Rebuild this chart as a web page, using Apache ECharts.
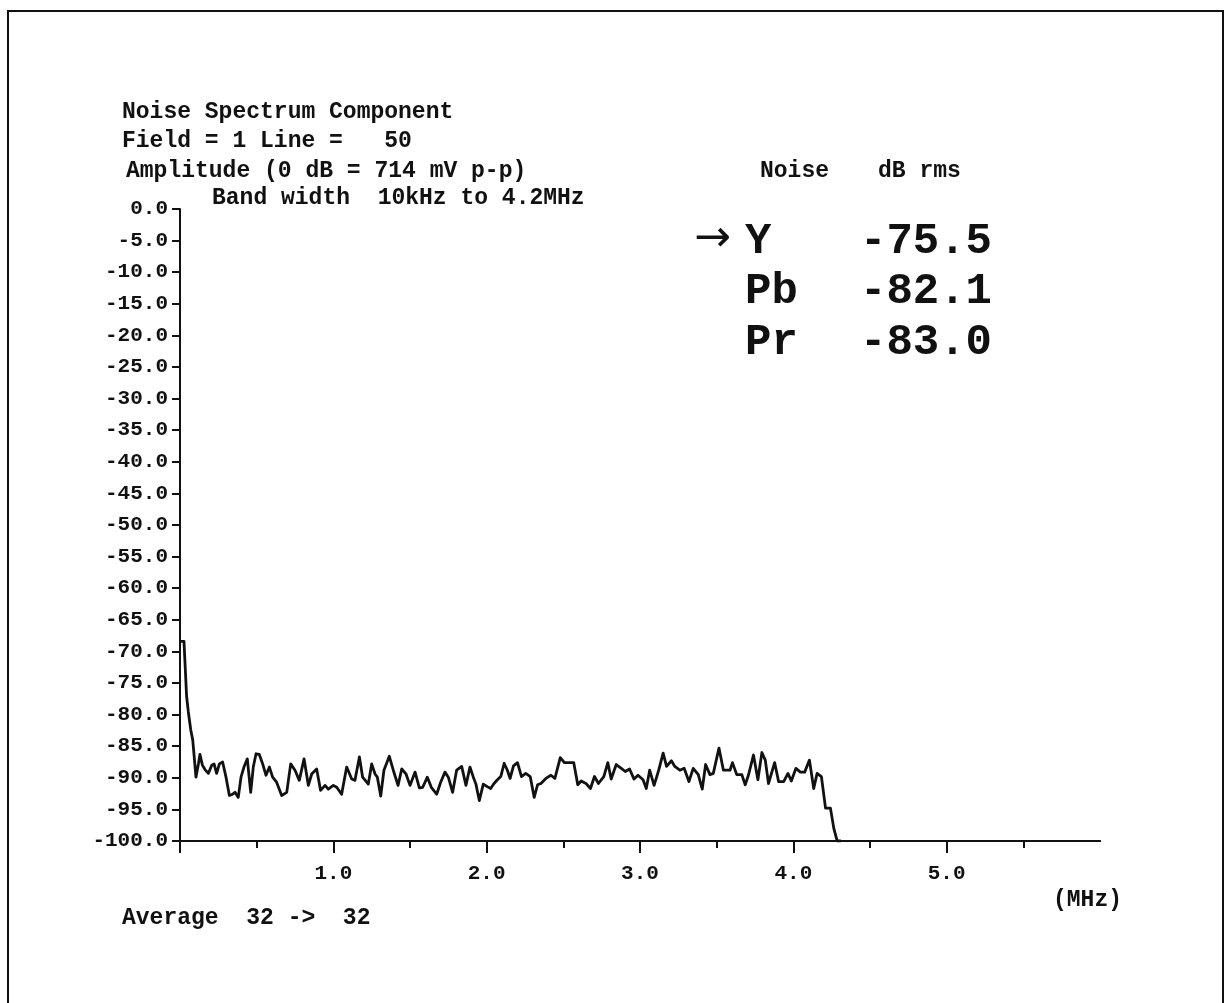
<!DOCTYPE html>
<html>
<head>
<meta charset="utf-8">
<title>Noise Spectrum Component</title>
<script src="https://cdn.jsdelivr.net/npm/echarts@6/dist/echarts.min.js"></script>
<style>
  html, body { margin: 0; padding: 0; background: #fff; }
  #chart { width: 1227px; height: 1003px; }
</style>
</head>
<body>
<div id="chart"></div>
<script>
// Frequency (MHz) of each sample of the averaged noise spectrum
const freqMHz = [
  0.000, 0.026, 0.043, 0.054, 0.070, 0.083, 0.091, 0.104, 0.120, 0.130,
  0.146, 0.163, 0.185, 0.207, 0.222, 0.239, 0.257, 0.278, 0.300, 0.322,
  0.343, 0.359, 0.380, 0.398, 0.417, 0.439, 0.461, 0.478, 0.496, 0.517,
  0.539, 0.561, 0.583, 0.604, 0.630, 0.663, 0.696, 0.722, 0.750, 0.778,
  0.809, 0.837, 0.859, 0.891, 0.917, 0.946, 0.967, 1.000, 1.022, 1.054,
  1.087, 1.120, 1.141, 1.170, 1.191, 1.228, 1.250, 1.272, 1.287, 1.309,
  1.330, 1.365, 1.391, 1.422, 1.446, 1.474, 1.500, 1.533, 1.561, 1.583,
  1.613, 1.639, 1.674, 1.700, 1.728, 1.750, 1.778, 1.804, 1.837, 1.865,
  1.891, 1.913, 1.930, 1.952, 1.978, 2.004, 2.026, 2.048, 2.070, 2.092,
  2.114, 2.135, 2.153, 2.175, 2.201, 2.227, 2.255, 2.284, 2.310, 2.332,
  2.354, 2.386, 2.419, 2.445, 2.480, 2.507, 2.539, 2.568, 2.594, 2.616,
  2.648, 2.677, 2.703, 2.729, 2.764, 2.790, 2.812, 2.845, 2.878, 2.904,
  2.932, 2.961, 2.987, 3.020, 3.041, 3.063, 3.092, 3.122, 3.151, 3.173,
  3.205, 3.227, 3.260, 3.288, 3.319, 3.347, 3.380, 3.406, 3.428, 3.456,
  3.478, 3.515, 3.544, 3.587, 3.603, 3.631, 3.664, 3.686, 3.707, 3.740,
  3.769, 3.795, 3.817, 3.838, 3.878, 3.904, 3.937, 3.965, 3.987, 4.017,
  4.046, 4.074, 4.105, 4.133, 4.155, 4.183, 4.210, 4.242, 4.264, 4.286,
  4.310
];

// Noise level (dB, 0 dB = 714 mV p-p) at each frequency above
const levelDb = [
  -68.4, -68.4, -77.1, -79.5, -82.4, -84.0, -86.2, -89.9, -87.8, -86.3,
  -88.0, -88.7, -89.3, -88.0, -87.8, -89.3, -87.8, -87.5, -89.9, -92.8,
  -92.6, -92.3, -93.1, -89.9, -88.3, -87.0, -92.3, -88.3, -86.2, -86.3,
  -87.8, -89.6, -88.3, -89.9, -90.7, -92.8, -92.3, -87.8, -88.8, -90.4,
  -87.0, -91.2, -89.4, -88.6, -92.0, -91.2, -91.8, -91.2, -91.5, -92.6,
  -88.3, -90.2, -90.4, -86.7, -89.9, -91.0, -87.8, -89.4, -89.9, -92.9,
  -88.8, -86.6, -88.8, -91.2, -88.6, -89.4, -91.2, -89.1, -91.6, -91.5,
  -89.9, -91.5, -92.6, -90.7, -89.1, -89.9, -92.3, -88.8, -88.2, -91.2,
  -88.3, -89.9, -91.0, -93.6, -91.0, -91.4, -91.7, -90.9, -90.3, -89.8,
  -87.7, -88.8, -90.1, -88.1, -87.6, -89.8, -89.3, -89.8, -93.1, -91.1,
  -90.9, -90.1, -89.6, -90.1, -86.8, -87.6, -87.6, -87.6, -91.1, -90.5,
  -90.9, -91.7, -89.8, -90.9, -89.8, -87.6, -90.2, -87.9, -88.5, -89.0,
  -88.6, -90.2, -89.6, -90.3, -91.7, -88.8, -91.2, -88.8, -86.1, -88.2,
  -87.3, -88.2, -88.8, -88.5, -90.6, -88.5, -89.5, -91.8, -87.9, -89.5,
  -89.3, -85.3, -88.8, -88.8, -87.6, -89.5, -89.5, -91.1, -89.6, -86.4,
  -90.3, -86.0, -87.2, -90.9, -87.6, -90.6, -90.6, -89.3, -90.5, -88.5,
  -89.1, -89.1, -87.2, -91.7, -89.3, -89.8, -94.8, -94.8, -98.0, -100.0,
  -100.0
];

// Axis ticks
const minorTicksMHz = [0.5, 1.5, 2.5, 3.5, 4.5, 5.5];
const majorTicksMHz = [0, 1, 2, 3, 4, 5];
const labelTicksMHz = [1, 2, 3, 4, 5];

// Measured rms noise per component
const noiseComponents = ['Y', 'Pb', 'Pr'];
const noiseRmsDb = [-75.5, -82.1, -83.0];

// Header lines
const headerLines = [
  'Noise Spectrum Component',
  'Field = 1 Line =   50',
  'Amplitude (0 dB = 714 mV p-p)',
  'Band width  10kHz to 4.2MHz'
];
const averageText = 'Average  32 ->  32';
const unitText = '(MHz)';

const MONO = '"Liberation Mono", "DejaVu Sans Mono", monospace';
const INK = '#111';
const TXT = 23;

const chart = echarts.init(document.getElementById('chart'), null, { renderer: 'canvas' });

const seriesData = freqMHz.map((f, i) => [f, levelDb[i]]);

function txt(text, x, y, size, opts) {
  return Object.assign({
    type: 'text',
    x: x, y: y,
    style: {
      text: text,
      fontFamily: MONO,
      fontSize: size,
      fontWeight: 'bold',
      fill: INK,
      verticalAlign: 'middle',
      align: 'left'
    },
    z: 10
  }, opts || {});
}

const graphics = [
  // page frame
  {
    type: 'rect',
    shape: { x: 8, y: 11, width: 1215, height: 1010 },
    style: { fill: 'none', stroke: INK, lineWidth: 2 },
    z: 5
  },
  txt(headerLines[0], 122, 112, TXT),
  txt(headerLines[1], 122, 141, TXT),
  txt(headerLines[2], 126, 171, TXT),
  txt(headerLines[3], 212, 198, TXT),
  txt('Noise', 760, 171, TXT),
  txt('dB rms', 878, 171, TXT),
  txt(unitText, 1053, 900, TXT),
  txt(averageText, 122, 918, TXT),
  {
    type: 'text',
    x: 694, y: 240,
    style: {
      text: '\u2192',
      fontFamily: '"DejaVu Sans", sans-serif',
      fontSize: 44,
      fill: INK,
      verticalAlign: 'middle',
      align: 'left'
    },
    z: 10
  }
];

const rowY = [242, 292, 343];
noiseComponents.forEach((name, i) => {
  graphics.push(txt(name, 745, rowY[i], 44));
  graphics.push(txt(noiseRmsDb[i].toFixed(1), 860, rowY[i], 44));
});

const commonX = {
  type: 'value',
  min: 0,
  max: 6,
  interval: 0.5,
  position: 'bottom',
  splitLine: { show: false },
  axisLine: { show: true, onZero: false, lineStyle: { color: INK, width: 2 } }
};

chart.setOption({
  animation: false,
  backgroundColor: '#ffffff',
  grid: { left: 180, right: 127, top: 209, bottom: 162, outerBoundsMode: 'none' },
  xAxis: [
    Object.assign({}, commonX, {
      axisTick: { show: true, length: 7, customValues: minorTicksMHz, lineStyle: { color: INK, width: 2 } },
      axisLabel: { show: false }
    }),
    Object.assign({}, commonX, {
      axisTick: { show: true, length: 12, customValues: majorTicksMHz, lineStyle: { color: INK, width: 2 } },
      axisLabel: {
        show: true,
        customValues: labelTicksMHz,
        formatter: v => Number(v).toFixed(1),
        margin: 22,
        fontFamily: MONO,
        fontSize: 21,
        fontWeight: 'bold',
        color: INK
      }
    })
  ],
  yAxis: {
    type: 'value',
    min: -100,
    max: 0,
    interval: 5,
    splitLine: { show: false },
    axisLine: { show: true, onZero: false, lineStyle: { color: INK, width: 2 } },
    axisTick: { show: true, length: 8, lineStyle: { color: INK, width: 2 } },
    axisLabel: {
      formatter: v => Number(v).toFixed(1),
      margin: 12,
      fontFamily: MONO,
      fontSize: 21,
      fontWeight: 'bold',
      color: INK
    }
  },
  series: [{
    type: 'line',
    xAxisIndex: 0,
    data: seriesData,
    symbol: 'none',
    lineStyle: { color: INK, width: 2.8, join: 'round' },
    z: 3
  }],
  graphic: graphics
});
</script>
</body>
</html>
